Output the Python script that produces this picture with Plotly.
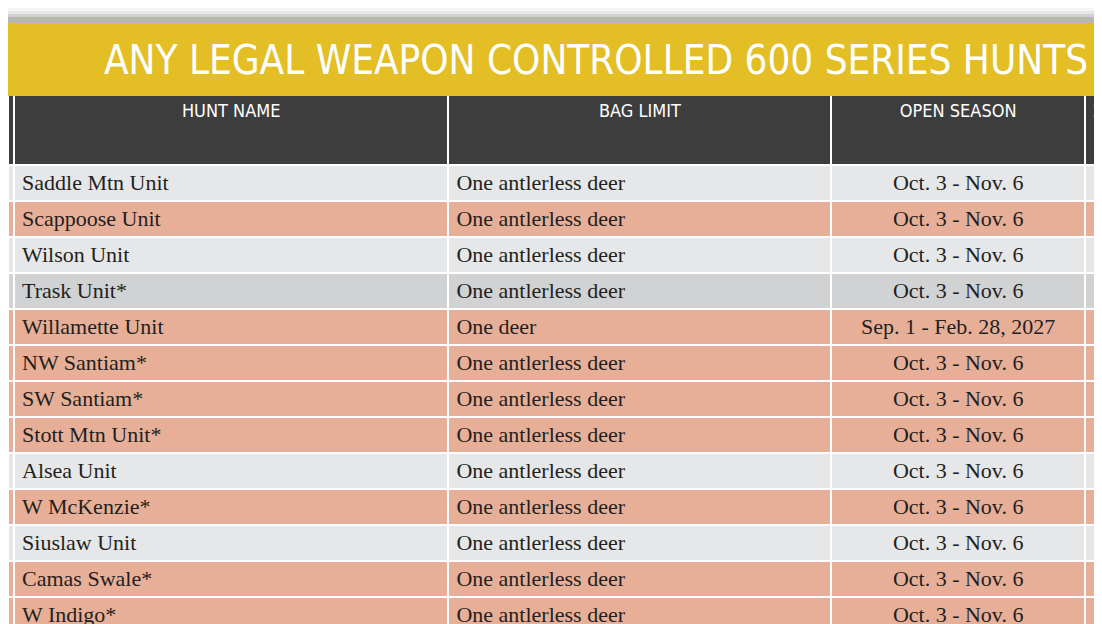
import plotly.graph_objects as go

title = "ANY LEGAL WEAPON CONTROLLED 600 SERIES HUNTS"
headers = ["", "<br>HUNT NAME", "<br>BAG LIMIT", "<br>OPEN SEASON", "<br>2"]
hunt_names = ["Saddle Mtn Unit", "Scappoose Unit", "Wilson Unit", "Trask Unit*",
              "Willamette Unit", "NW Santiam*", "SW Santiam*", "Stott Mtn Unit*",
              "Alsea Unit", "W McKenzie*", "Siuslaw Unit", "Camas Swale*", "W Indigo*"]
bag_limits = ["One antlerless deer"] * 4 + ["One deer"] + ["One antlerless deer"] * 8
open_season = ["Oct. 3 - Nov. 6"] * 4 + ["Sep. 1 - Feb. 28, 2027"] + ["Oct. 3 - Nov. 6"] * 8
row_kind = ["g", "s", "g", "d", "s", "s", "s", "s", "g", "s", "g", "s", "s"]

palette = {"g": "#E6E7E8", "s": "#E8AF98", "d": "#D1D2D4"}
row_colors = [palette[k] for k in row_kind]
blank = [""] * len(hunt_names)

W, H = 1102, 624
fig = go.Figure(go.Table(
    domain=dict(x=[0, 1], y=[0, 1 - 84 / H]),
    columnwidth=[6, 432, 381, 252, 25],
    header=dict(values=headers, height=73, fill_color="#3D3D3D",
                line=dict(color="white", width=2),
                align=["center", "center", "center", "center", "left"],
                font=dict(family="DejaVu Sans Condensed, Liberation Sans Narrow, Roboto", size=18, color="white")),
    cells=dict(values=[blank, hunt_names, bag_limits, open_season, blank], height=36,
               fill_color=[row_colors] * 5, line=dict(color="white", width=2),
               align=["left", "left", "left", "center", "left"],
               font=dict(family="Liberation Serif, DejaVu Serif", size=22, color="#231F20")),
))

for i, op in enumerate([0.04, 0.06, 0.09, 0.12]):
    fig.add_shape(type="rect", xref="paper", yref="paper", x0=0, x1=1,
                  y0=1 - 15 / H, y1=1 - (3 * i) / H,
                  fillcolor="rgba(0,0,0,%s)" % op, line_width=0, layer="below")
fig.add_shape(type="rect", xref="paper", yref="paper", x0=0, x1=1,
              y0=1 - 88 / H, y1=1 - 15 / H, fillcolor="#E3BE25", line_width=0)
fig.add_annotation(text=title, xref="paper", yref="paper", x=1 - 20 / W, y=1 - 52 / H,
                   xanchor="right", yanchor="middle", showarrow=False,
                   font=dict(family="DejaVu Sans Condensed, Liberation Sans Narrow, Roboto", size=40, color="white"))

fig.update_layout(width=W, height=H, margin=dict(l=0, r=0, t=0, b=0),
                  paper_bgcolor="white", plot_bgcolor="white")
fig.write_html("out.html")
